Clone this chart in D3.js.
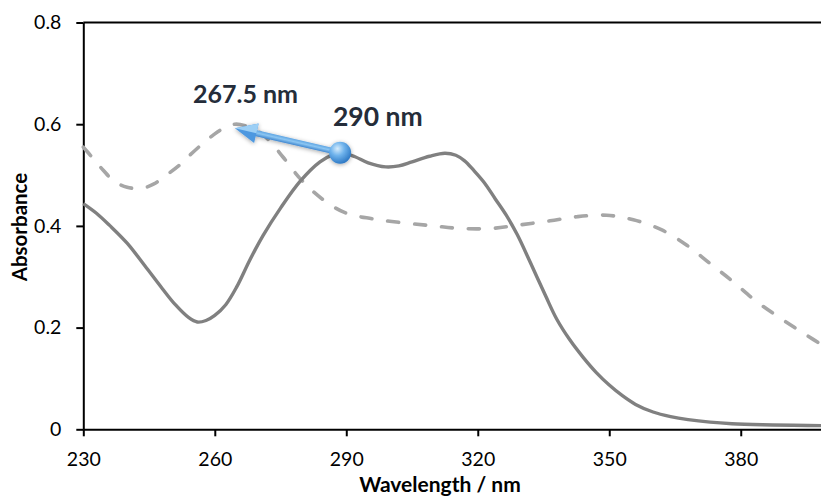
<!DOCTYPE html>
<html>
<head>
<meta charset="utf-8">
<script src="https://cdn.jsdelivr.net/npm/d3@7"></script>
<style>
  html, body { margin: 0; padding: 0; background: #fff; }
  svg { display: block; font-family: Lato, "Open Sans", sans-serif; }
</style>
</head>
<body>
<svg id="chart" width="821" height="497"></svg>
<script>
// Absorption spectra: wavelength (nm) vs absorbance
const solidWavelength = [230, 233, 236, 240, 244, 248, 251, 254, 256, 258, 260, 262.5, 265, 268, 271, 275, 279.5, 284, 287, 289, 292, 295, 299, 302, 305, 309, 312.5, 315, 317, 319, 321.5, 324, 326.5, 329, 332, 335.5, 338, 341, 344, 347, 350, 353, 356, 360, 364, 368, 373, 378, 385, 392, 400];
const solidAbsorbance = [0.444, 0.425, 0.401, 0.366, 0.322, 0.277, 0.245, 0.220, 0.211, 0.214, 0.224, 0.245, 0.280, 0.333, 0.381, 0.435, 0.488, 0.526, 0.540, 0.544, 0.536, 0.524, 0.516, 0.518, 0.526, 0.537, 0.543, 0.539, 0.528, 0.510, 0.485, 0.453, 0.421, 0.383, 0.328, 0.262, 0.217, 0.176, 0.142, 0.112, 0.087, 0.066, 0.049, 0.034, 0.025, 0.019, 0.014, 0.011, 0.009, 0.008, 0.007];

const dashedWavelength = [230, 232, 234.5, 237, 240, 243.3, 246, 249, 252, 254.3, 257, 259.7, 262, 264.6, 267, 269.5, 272.2, 275.6, 279.8, 284.8, 290, 296, 303, 309.9, 316, 323, 329.6, 336.5, 342.6, 349.4, 355.5, 362, 367.7, 373, 378.3, 383.2, 388.6, 394.3, 400];
const dashedAbsorbance = [0.555, 0.535, 0.510, 0.488, 0.476, 0.474, 0.482, 0.500, 0.520, 0.539, 0.560, 0.579, 0.592, 0.600, 0.597, 0.588, 0.570, 0.535, 0.490, 0.451, 0.425, 0.414, 0.406, 0.400, 0.395, 0.395, 0.402, 0.410, 0.418, 0.421, 0.412, 0.392, 0.362, 0.326, 0.290, 0.254, 0.221, 0.189, 0.158];

const xTicks = [230, 260, 290, 320, 350, 380];
const yTicks = [0, 0.2, 0.4, 0.6, 0.8];

// Peak annotation: arrow from the solid-curve maximum to the dashed-curve maximum
const peakLabels = ["267.5 nm", "290 nm"];
const arrowFrom = [288.6, 0.544];
const arrowTo = [264.6, 0.592];

const svg = d3.select("#chart");
const plotLeft = 83.3, plotRight = 828.4, plotTop = 22.5, plotBottom = 429.3;

const x = d3.scaleLinear().domain([230, 400]).range([plotLeft, plotRight]);
const y = d3.scaleLinear().domain([0, 0.8]).range([plotBottom, plotTop]);

const defs = svg.append("defs");
const shaftGrad = defs.append("linearGradient").attr("id", "shaftGrad")
  .attr("gradientUnits", "userSpaceOnUse");
const dotGrad = defs.append("radialGradient").attr("id", "dotGrad")
  .attr("cx", "38%").attr("cy", "32%").attr("r", "70%");
dotGrad.append("stop").attr("offset", "0%").attr("stop-color", "#d6ecfc");
dotGrad.append("stop").attr("offset", "45%").attr("stop-color", "#6fb3ec");
dotGrad.append("stop").attr("offset", "100%").attr("stop-color", "#2d78c4");
const shadow = defs.append("filter").attr("id", "soft").attr("x", "-50%").attr("y", "-50%").attr("width", "200%").attr("height", "200%");
shadow.append("feDropShadow").attr("dx", 0).attr("dy", 1).attr("stdDeviation", 2.2)
  .attr("flood-color", "#000").attr("flood-opacity", 0.35);

// Axes
const yAxis = d3.axisLeft(y).tickValues(yTicks).tickSize(7).tickSizeOuter(0).tickPadding(15)
  .tickFormat(d => d === 0 ? "0" : d3.format(".1f")(d));
const xAxis = d3.axisBottom(x).tickValues(xTicks).tickSize(7).tickSizeOuter(0).tickPadding(16);

const gy = svg.append("g").attr("transform", `translate(${plotLeft},0)`).call(yAxis);
const gx = svg.append("g").attr("transform", `translate(0,${plotBottom})`).call(xAxis);
[gx, gy].forEach(g => {
  g.select(".domain").attr("stroke", "#000").attr("stroke-width", 2);
  g.selectAll(".tick line").attr("stroke", "#000").attr("stroke-width", 2);
  g.selectAll(".tick text").attr("fill", "#000").attr("font-size", 19.5)
    .attr("font-family", "Lato, 'Open Sans', sans-serif");
});

// Plot frame (top and right edges)
svg.append("path")
  .attr("d", `M${plotLeft},${plotTop}H${plotRight}V${plotBottom}`)
  .attr("fill", "none").attr("stroke", "#000").attr("stroke-width", 2);

// Axis titles
svg.append("text")
  .attr("x", 440).attr("y", 492)
  .attr("text-anchor", "middle").attr("font-weight", 700).attr("font-size", 21)
  .text("Wavelength / nm");
svg.append("text")
  .attr("transform", "translate(27,227) rotate(-90)")
  .attr("text-anchor", "middle").attr("font-weight", 700).attr("font-size", 20.5)
  .text("Absorbance");

// Spectra
const plot = svg.append("g");
const line = d3.line().x(d => x(d[0])).y(d => y(d[1])).curve(d3.curveCatmullRom.alpha(0.5));

plot.append("path")
  .datum(dashedWavelength.map((w, i) => [w, dashedAbsorbance[i]]))
  .attr("d", line).attr("fill", "none")
  .attr("stroke", "#a6a6a6").attr("stroke-width", 3.6)
  .attr("stroke-dasharray", "11,16").attr("stroke-linecap", "round");

plot.append("path")
  .datum(solidWavelength.map((w, i) => [w, solidAbsorbance[i]]))
  .attr("d", line).attr("fill", "none")
  .attr("stroke", "#808080").attr("stroke-width", 3.4);

// Arrow annotation
const p0 = [x(arrowFrom[0]), y(arrowFrom[1])];
const p1 = [x(arrowTo[0]), y(arrowTo[1])];
const dx = p0[0] - p1[0], dy = p0[1] - p1[1];
const len = Math.hypot(dx, dy);
const ux = dx / len, uy = dy / len;       // unit vector from tip toward dot
const px = -uy, py = ux;                  // perpendicular
const headLen = 22, headHalf = 10, shaftHalf = 3;
const base = [p1[0] + ux * headLen, p1[1] + uy * headLen];

shaftGrad.attr("x1", base[0] + px * shaftHalf).attr("y1", base[1] + py * shaftHalf)
  .attr("x2", base[0] - px * shaftHalf).attr("y2", base[1] - py * shaftHalf);
shaftGrad.append("stop").attr("offset", "0%").attr("stop-color", "#3f86cf");
shaftGrad.append("stop").attr("offset", "55%").attr("stop-color", "#8cc6f2");
shaftGrad.append("stop").attr("offset", "100%").attr("stop-color", "#5fa5e3");

const ann = svg.append("g").attr("filter", "url(#soft)");
ann.append("polygon")
  .attr("points", [
    [base[0] + px * shaftHalf - ux * 1, base[1] + py * shaftHalf - uy * 1],
    [p0[0] + px * shaftHalf, p0[1] + py * shaftHalf],
    [p0[0] - px * shaftHalf, p0[1] - py * shaftHalf],
    [base[0] - px * shaftHalf - ux * 1, base[1] - py * shaftHalf - uy * 1]
  ].map(p => p.join(",")).join(" "))
  .attr("fill", "url(#shaftGrad)");
ann.append("polygon")
  .attr("points", [
    p1,
    [base[0] + px * headHalf, base[1] + py * headHalf],
    [base[0] - px * headHalf, base[1] - py * headHalf]
  ].map(p => p.join(",")).join(" "))
  .attr("fill", "#4d98e0");
ann.append("polygon")
  .attr("points", [
    p1,
    [base[0] - px * headHalf, base[1] - py * headHalf],
    [base[0], base[1]]
  ].map(p => p.join(",")).join(" "))
  .attr("fill", "#9ccff5");
ann.append("circle")
  .attr("cx", p0[0]).attr("cy", p0[1]).attr("r", 11)
  .attr("fill", "url(#dotGrad)");

// Peak labels
svg.append("text").attr("x", 193).attr("y", 103)
  .attr("font-weight", 700).attr("font-size", 25).attr("fill", "#252d3a")
  .text(peakLabels[0]);
svg.append("text").attr("x", 333).attr("y", 126)
  .attr("font-weight", 700).attr("font-size", 26.5).attr("fill", "#252d3a")
  .text(peakLabels[1]);
</script>
</body>
</html>
